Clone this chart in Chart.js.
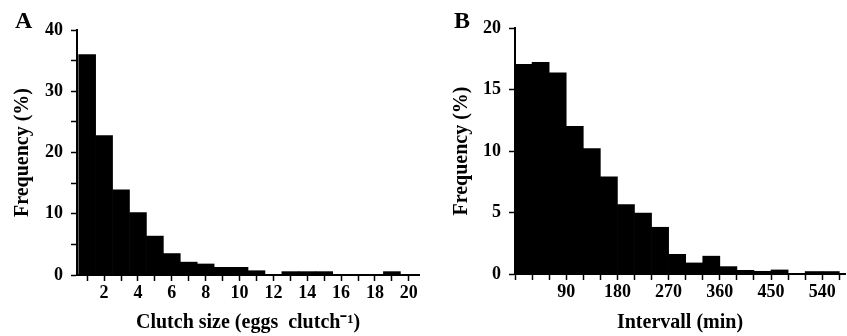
<!DOCTYPE html>
<html>
<head>
<meta charset="utf-8">
<script src="https://cdn.jsdelivr.net/npm/chart.js@4.4.1/dist/chart.umd.min.js"></script>
<style>
  html, body { margin: 0; padding: 0; background: #fff; }
  #wrap { position: relative; width: 847px; height: 336px; }
  #cA { position: absolute; left: 0; top: 0; }
  #cB { position: absolute; left: 430px; top: 0; }
</style>
</head>
<body>
<div id="wrap">
  <canvas id="cA" width="430" height="336"></canvas>
  <canvas id="cB" width="417" height="336"></canvas>
</div>
<script>
// panel A: clutch size histogram
var clutchSize = [1, 2, 3, 4, 5, 6, 7, 8, 9, 10, 11, 12, 13, 14, 15, 16, 17, 18, 19];
var clutchFreq = [36.0, 22.75, 13.9, 10.2, 6.35, 3.5, 2.1, 1.8, 1.25, 1.25, 0.7, 0, 0.55, 0.55, 0.55, 0, 0, 0, 0.55];
var clutchTicks = [1, 2, 3, 4, 5, 6, 7, 8, 9, 10, 11, 12, 13, 14, 15, 16, 17, 18, 19, 20];

// panel B: interval histogram (30 min bins, lower bound of each bin)
var binWidth = 30;
var intervalBin = [0, 30, 60, 90, 120, 150, 180, 210, 240, 270, 300, 330, 360, 390, 420, 450, 480, 510, 540];
var intervalFreq = [17.05, 17.2, 16.35, 12.0, 10.2, 7.9, 5.65, 4.95, 3.8, 1.6, 0.9, 1.45, 0.6, 0.3, 0.22, 0.33, 0, 0.2, 0.2];
var intervalTicks = [0, 30, 60, 90, 120, 150, 180, 210, 240, 270, 300, 330, 360, 390, 420, 450, 480, 510, 540, 570];

var FONT = "'Liberation Serif', 'Times New Roman', serif";

function letterPlugin(txt, x) {
    return {
        id: 'letter' + txt,
        afterDraw: function (chart) {
            var c = chart.ctx;
            c.save();
            c.font = "bold 24px " + FONT;
            c.fillStyle = "#000";
            c.textBaseline = "alphabetic";
            c.fillText(txt, x, 28);
            c.restore();
        }
    };
}

function fHist(id, xs, ys, o) {
    var pts = [];
    for (var i = 0; i < xs.length; i++) { pts.push({ x: xs[i], y: ys[i] }); }

    return new Chart(document.getElementById(id), {
        type: 'bar',
        data: {
            datasets: [{
                data: pts,
                backgroundColor: '#000',
                borderWidth: 0,
                barPercentage: 1,
                categoryPercentage: 1
            }]
        },
        options: {
            responsive: false,
            animation: false,
            layout: { padding: { left: 0, top: o.top, right: o.right, bottom: 0 } },
            plugins: { legend: { display: false }, tooltip: { enabled: false } },
            scales: {
                x: {
                    type: 'linear',
                    offset: false,
                    min: o.xMin, max: o.xMax,
                    afterBuildTicks: function (s) { s.ticks = o.xTicks.map(function (v) { return { value: v }; }); },
                    afterFit: function (s) { s.height = o.xH; },
                    border: { display: true, color: '#000', width: 2 },
                    grid: { display: true, drawOnChartArea: false, drawTicks: true, tickLength: 6, tickColor: '#000', tickWidth: 1.5, offset: false },
                    ticks: {
                        autoSkip: false, maxRotation: 0, padding: 2, color: '#000',
                        font: { family: FONT, size: 18, weight: 'bold' },
                        callback: o.xLabel
                    },
                    title: {
                        display: true, text: o.xTitle, color: '#000',
                        font: { family: FONT, size: 20, weight: 'bold' },
                        padding: { top: 0, bottom: 1 }
                    }
                },
                y: {
                    min: 0, max: o.yMax,
                    afterFit: function (s) { s.width = o.yW; },
                    border: { display: true, color: '#000', width: 2 },
                    grid: { display: true, drawOnChartArea: false, drawTicks: true, tickLength: 6, tickColor: '#000', tickWidth: 1.5 },
                    ticks: {
                        stepSize: o.yStep, padding: 8, color: '#000',
                        font: { family: FONT, size: 18, weight: 'bold' },
                        callback: o.yLabel
                    },
                    title: {
                        display: true, text: 'Frequency (%)', color: '#000',
                        font: { family: FONT, size: 20, weight: 'bold' },
                        padding: { top: o.yTitlePad, bottom: 0 }
                    }
                }
            }
        },
        plugins: [letterPlugin(o.letter, o.letterX)]
    });
}

fHist('cA', clutchSize, clutchFreq, {
    top: 30, right: 11, xH: 61, yW: 77, yTitlePad: 11,
    xMin: 0.4, xMax: 20.6, xTicks: clutchTicks,
    xLabel: function (v) { return v % 2 == 0 ? String(v) : ''; },
    yMax: 40, yStep: 2.5,
    yLabel: function (v) { return v % 10 == 0 ? String(v) : ''; },
    xTitle: 'Clutch size (eggs  clutch\u207B\u00B9)',
    letter: 'A', letterX: 15
});

var binMid = intervalBin.map(function (b) { return b + binWidth / 2; });

fHist('cB', binMid, intervalFreq, {
    top: 28, right: 2, xH: 62, yW: 85, yTitlePad: 20,
    xMin: 0, xMax: 580, xTicks: intervalTicks,
    xLabel: function (v) { return (v > 0 && v % 90 == 0) ? String(v) : ''; },
    yMax: 20, yStep: 5,
    yLabel: function (v) { return String(v); },
    xTitle: 'Intervall (min)',
    letter: 'B', letterX: 24
});
</script>
</body>
</html>
